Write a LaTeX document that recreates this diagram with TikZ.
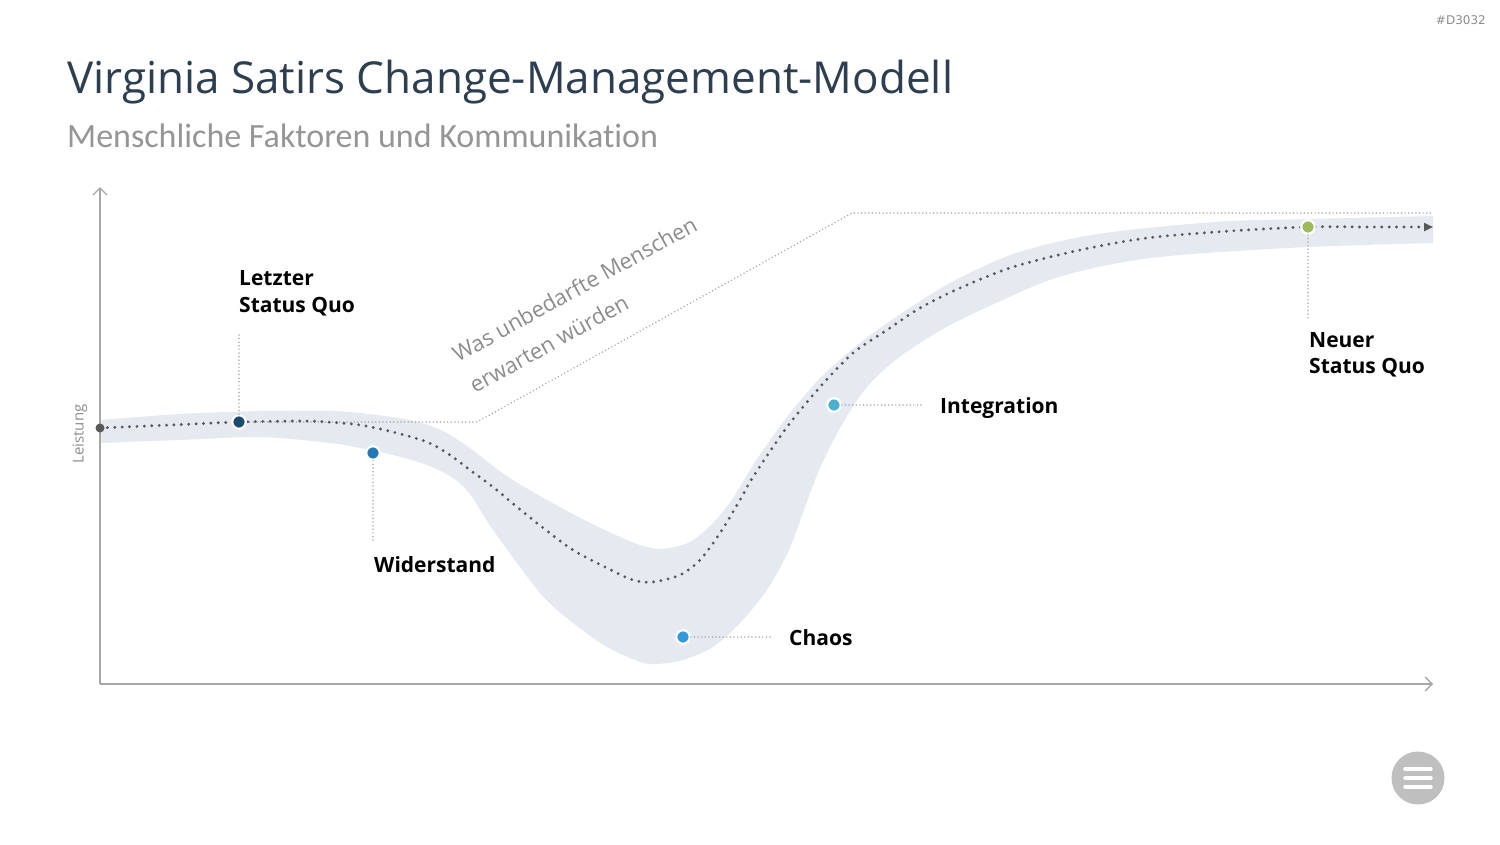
\documentclass[tikz,border=0pt]{standalone}
\usepackage{fontspec}
\setmainfont{Open Sans}
\newfontfamily\carlito[Ligatures=NoCommon]{Carlito}
\newfontfamily\dejavu{DejaVu Sans}
\usetikzlibrary{arrows.meta}

\definecolor{titlecol}{HTML}{2C3E50}
\definecolor{subcol}{HTML}{8C8C8C}
\definecolor{subtcol}{HTML}{959595}
\definecolor{bandcol}{HTML}{E5E9F0}
\definecolor{axiscol}{HTML}{A6A6A6}
\definecolor{curvecol}{HTML}{595959}
\definecolor{leadcol}{HTML}{ABABAB}
\definecolor{dotA}{HTML}{1B4B6F}
\definecolor{dotB}{HTML}{2479B5}
\definecolor{dotC}{HTML}{3498DB}
\definecolor{dotD}{HTML}{4AB0CE}
\definecolor{dotE}{HTML}{9BBB59}
\definecolor{menucol}{HTML}{BFBFBF}

\begin{document}
\begin{tikzpicture}[x=1pt,y=-1pt,
  axisline/.style={draw=axiscol, line width=1.3pt, -{Straight Barb[length=7pt,width=14pt]}},
  mainline/.style={draw=curvecol, line width=3.2pt, line cap=round, dash pattern=on 0pt off 7.4pt},
  expectline/.style={draw=leadcol, line width=1.7pt, line cap=round, dash pattern=on 0pt off 3.6pt},
  leader/.style={draw=leadcol, line width=1.7pt, line cap=round, dash pattern=on 0pt off 3.6pt},
  keydot/.style={circle, draw=white, line width=2.2pt, minimum size=13.5pt, inner sep=0pt},
  lbl/.style={anchor=base west, inner sep=0pt, font=\fontsize{21}{25}\selectfont\bfseries, text=black},
  menuline/.style={draw=white, line width=3.4pt, line cap=round}
]
\useasboundingbox (0,0) rectangle (1500,844);

% title
\node[anchor=base west, inner sep=0pt, text=titlecol, font=\fontsize{44}{52}\selectfont] (title) at (67,93) {Virginia Satirs Change-Management-Modell};
\node[anchor=base west, inner sep=0pt, text=subtcol, font=\carlito\fontsize{34}{40}\selectfont] (subtitle) at (67,147) {Menschliche Faktoren und Kommunikation};
\node[anchor=base east, inner sep=0pt, text=subcol, font=\dejavu\fontsize{12}{14}\selectfont] (code) at (1486,24) {\#D3032};

% band
\fill[bandcol] plot[smooth,tension=0.5] coordinates {(100,420) (180,414) (260,411) (330,411) (360,413) (410,420) (443,431) (470,448) (493,466) (513,480) (540,496) (573,514) (607,531) (640,545) (662,549) (690,542) (713,523) (733,498) (755,462) (787,417) (820,378) (855,347) (890,321) (950,283) (1013,254) (1080,237) (1147,228) (1230,221) (1308,219) (1433,216)}
  -- plot[smooth,tension=0.5] coordinates {(1433,243) (1308,247) (1180,255) (1113,264) (1047,281) (960,320) (920,343) (887,367) (863,392) (840,428) (820,468) (805,507) (789,550) (767,590) (740,623) (713,647) (683,660) (657,664) (640,662) (607,647) (573,623) (540,593) (493,530) (470,494) (453,478) (427,465) (393,455) (360,448) (330,443) (260,437) (180,440) (100,443)} -- cycle;

% axes
\coordinate (origin) at (100,684);
\coordinate (ytop) at (100,187);
\coordinate (xend) at (1433,684);
\draw[axisline] (origin) -- (ytop);
\draw[axisline] (origin) -- (xend);
\node[rotate=90, inner sep=0pt, text=subcol, font=\fontsize{15}{18}\selectfont] (yl) at (80,434) {Leistung};

% expectation line
\coordinate (e1) at (477,422);
\coordinate (e2) at (852,213);
\coordinate (e3) at (1433,213);
\draw[expectline] (239,422) -- (e1) -- (e2) -- (e3);
\node[anchor=base west, rotate=29, inner sep=0pt, text=subcol, font=\fontsize{22}{26}\selectfont] (was1) at (458,363) {Was unbedarfte Menschen};
\node[anchor=base west, rotate=29, inner sep=0pt, text=subcol, font=\fontsize{22}{26}\selectfont] (was2) at (475,394) {erwarten würden};

% main curve
\draw[mainline, -{Triangle[length=9pt,width=8pt]}] plot[smooth,tension=0.5] coordinates {(100,428) (170,425) (239,422) (300,421) (327,422) (360,425) (393,432) (427,442) (450,455) (470,470) (493,487) (517,507) (542,527) (573,550) (607,568) (633,580) (653,582) (680,575) (700,560) (720,533) (740,500) (753,477) (787,427) (820,387) (853,353) (887,330) (920,308) (960,288) (1013,267) (1080,250) (1147,238) (1230,231) (1308,227) (1370,227) (1433,227)};

% dots
\node[circle, fill=curvecol, minimum size=9pt, inner sep=0pt] (start) at (100,428) {};
\node[keydot, fill=dotA] (lsq) at (239,422) {};
\node[keydot, fill=dotB] (wid) at (373,453) {};
\node[keydot, fill=dotC] (cha) at (683,637) {};
\node[keydot, fill=dotD] (int) at (834,405) {};
\node[keydot, fill=dotE] (nsq) at (1308,227) {};

% leaders
\coordinate (lsqend) at (239,332);
\coordinate (widend) at (373,541);
\coordinate (chaend) at (772,637);
\coordinate (intend) at (923,405);
\coordinate (nsqend) at (1308,318);
\draw[leader] (lsq) -- (lsqend);
\draw[leader] (wid) -- (widend);
\draw[leader] (cha) -- (chaend);
\draw[leader] (int) -- (intend);
\draw[leader] (nsq) -- (nsqend);

% labels
\node[lbl] (lsqa) at (239,285) {Letzter};
\node[lbl] (lsqb) at (239,312) {Status Quo};
\node[lbl] (widl) at (374,572) {Widerstand};
\node[lbl] (chal) at (789,645) {Chaos};
\node[lbl] (intl) at (940,413) {Integration};
\node[lbl] (nsqa) at (1309,347) {Neuer};
\node[lbl] (nsqb) at (1309,373) {Status Quo};

% menu button
\node[circle, fill=menucol, minimum size=53pt, inner sep=0pt] (menu) at (1418,778) {};
\draw[menuline] (1405,769) -- (1431,769);
\draw[menuline] (1405,778) -- (1431,778);
\draw[menuline] (1405,787) -- (1431,787);
\end{tikzpicture}
\end{document}
